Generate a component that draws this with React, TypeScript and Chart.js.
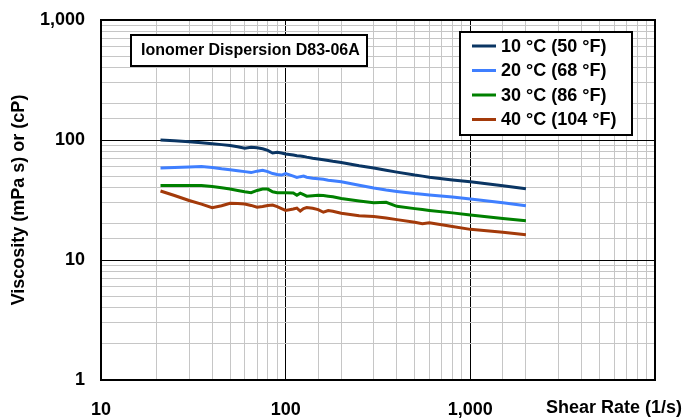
import React, { useEffect, useRef } from "react";
import { Chart, registerables } from "chart.js";

Chart.register(...registerables);

const shearRate = [21, 25, 30, 35, 40, 45, 50, 55, 60, 65, 70, 75, 80, 85, 90, 95, 100, 110, 115, 120, 125, 130, 140, 150, 160, 170, 180, 200, 250, 300, 350, 400, 500, 550, 600, 800, 1000, 1500, 2000];

const visc10C = [100, 98.5, 96.5, 95, 93, 91.5, 90, 88, 85.5, 87, 86, 84.5, 82, 78, 79, 78, 76.5, 75, 74, 73.5, 73, 72, 70.5, 69.5, 68.5, 67.5, 66.5, 65, 61, 58.5, 56, 54, 51, 50, 49, 46.5, 44.8, 41.5, 39.2];
const visc20C = [58.5, 59, 59.5, 60, 59, 57.5, 56.5, 55.5, 54.5, 53.5, 55, 56, 54.5, 52.5, 51.5, 51, 52.5, 50, 48.8, 49.5, 50, 49, 48, 47.5, 47, 46.2, 45.7, 44.8, 42, 39.8, 38.3, 37.3, 35.8, 35.3, 34.8, 33.5, 32.3, 30, 28.3];
const visc30C = [41.7, 41.7, 41.7, 41.7, 41, 40, 39, 38, 37, 36.4, 38, 39, 39, 37, 36.4, 36.4, 36.4, 36.2, 34.6, 36, 35, 34, 34.3, 34.6, 34.4, 34, 33.6, 32.5, 31, 30, 30.3, 28, 26.8, 26.3, 25.9, 24.7, 23.7, 22.2, 21.2];
const visc40C = [37.6, 34.5, 31.3, 29.2, 27.3, 28.3, 29.7, 29.6, 29.3, 28.5, 27.5, 27.9, 28.4, 28.7, 27.8, 26.8, 25.9, 26.6, 27.1, 25.6, 26.8, 27.4, 27, 26.3, 25, 25.8, 25.5, 24.5, 23.4, 23, 22.4, 21.7, 20.6, 20.1, 20.4, 19, 18, 17, 16.2];

const seriesLabels = ["10 °C (50 °F)", "20 °C (68 °F)", "30 °C (86 °F)", "40 °C (104 °F)"];
const seriesColors = ["#0A3563", "#3F7FFF", "#008000", "#A33A0A"];

const xMajorTicks = [10, 100, 1000];
const yMajorTicks = [1, 10, 100, 1000];

const chartTitle = "Ionomer Dispersion D83-06A";
const xAxisTitle = "Shear Rate (1/s)";
const yAxisTitle = "Viscosity (mPa s) or (cP)";

const FONT = "'Liberation Sans', Arial, Helvetica, sans-serif";

const isMajor = (v: number) => Math.abs(Math.log10(v) - Math.round(Math.log10(v))) < 1e-9;

const overlayPlugin = {
  id: "overlay",
  afterDraw(chart: any) {
    const ctx = chart.ctx as CanvasRenderingContext2D;
    const a = chart.chartArea;
    ctx.save();
    // plot border
    ctx.strokeStyle = "#000";
    ctx.lineWidth = 2;
    ctx.strokeRect(a.left, a.top, a.right - a.left, a.bottom - a.top);

    // title box
    ctx.fillStyle = "#fff";
    ctx.fillRect(131, 35, 236, 31);
    ctx.strokeRect(131, 35, 236, 31);
    ctx.fillStyle = "#000";
    ctx.font = `bold 16px ${FONT}`;
    ctx.textBaseline = "middle";
    ctx.textAlign = "left";
    ctx.fillText(chartTitle, 141, 51);

    // legend box
    ctx.fillStyle = "#fff";
    ctx.fillRect(460, 32, 172, 103);
    ctx.strokeRect(460, 32, 172, 103);
    ctx.font = `bold 18px ${FONT}`;
    chart.data.datasets.forEach((ds: any, i: number) => {
      const y = 46 + i * 24.5;
      ctx.strokeStyle = ds.borderColor;
      ctx.lineWidth = 3;
      ctx.beginPath();
      ctx.moveTo(472, y);
      ctx.lineTo(496, y);
      ctx.stroke();
      ctx.fillStyle = "#000";
      ctx.fillText(ds.label, 501, y + 1);
    });

    // axis titles
    ctx.fillStyle = "#000";
    ctx.font = `bold 18px ${FONT}`;
    ctx.textAlign = "right";
    ctx.textBaseline = "middle";
    ctx.fillText(xAxisTitle, 682, 408);
    ctx.translate(19, 200);
    ctx.rotate(-Math.PI / 2);
    ctx.textAlign = "center";
    ctx.fillText(yAxisTitle, 0, 0);
    ctx.restore();
  },
};

export default function App() {
  const ref = useRef<HTMLCanvasElement | null>(null);
  useEffect(() => {
    if (!ref.current) return;
    const series = [visc10C, visc20C, visc30C, visc40C];
    const chart = new Chart(ref.current, {
      type: "line",
      data: {
        datasets: series.map((vals, i) => ({
          label: seriesLabels[i],
          data: shearRate.map((x, j) => ({ x, y: vals[j] })),
          borderColor: seriesColors[i],
          backgroundColor: seriesColors[i],
          borderWidth: 3,
          pointRadius: 0,
          tension: 0,
          fill: false,
        })),
      },
      options: {
        responsive: false,
        animation: false,
        devicePixelRatio: 1,
        layout: { padding: { left: 0, top: 20, right: 29, bottom: 0 } },
        plugins: { legend: { display: false }, tooltip: { enabled: false }, title: { display: false } },
        scales: {
          x: {
            type: "logarithmic",
            min: 10,
            max: 10000,
            afterFit: (s: any) => { s.height = 38; s.paddingLeft = 0; s.paddingRight = 0; },
            border: { display: false },
            grid: {
              drawTicks: false,
              color: (c: any) => (c.tick && isMajor(c.tick.value) ? "#000" : "#C6C6C6"),
              lineWidth: 1,
            },
            ticks: {
              autoSkip: false,
              maxRotation: 0,
              padding: 19,
              color: "#000",
              font: { family: FONT, size: 18, weight: "bold" },
              callback: (v: any) => (xMajorTicks.includes(Number(v)) ? Number(v).toLocaleString("en-US") : ""),
            },
          },
          y: {
            type: "logarithmic",
            min: 1,
            max: 1000,
            afterFit: (s: any) => { s.width = 101; s.paddingTop = 0; s.paddingBottom = 0; },
            border: { display: false },
            grid: {
              drawTicks: false,
              color: (c: any) => (c.tick && isMajor(c.tick.value) ? "#000" : "#C6C6C6"),
              lineWidth: 1,
            },
            ticks: {
              autoSkip: false,
              padding: 16,
              color: "#000",
              font: { family: FONT, size: 18, weight: "bold" },
              callback: (v: any) => (yMajorTicks.includes(Number(v)) ? Number(v).toLocaleString("en-US") : ""),
            },
          },
        },
      },
      plugins: [overlayPlugin],
    } as any);
    return () => chart.destroy();
  }, []);
  return (
    <div style={{ position: "absolute", left: 0, top: 0, width: 684, height: 418, background: "#fff" }}>
      <canvas ref={ref} width={684} height={418} />
    </div>
  );
}
